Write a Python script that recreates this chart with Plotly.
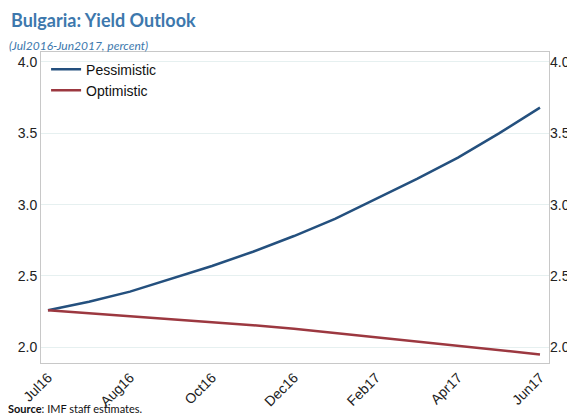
import plotly.graph_objects as go

period_index = list(range(13))
pessimistic = [2.26, 2.32, 2.39, 2.48, 2.57, 2.67, 2.78, 2.90, 3.04, 3.18, 3.33, 3.50, 3.68]
optimistic = [2.26, 2.24, 2.22, 2.20, 2.18, 2.155, 2.13, 2.10, 2.07, 2.04, 2.01, 1.98, 1.95]
tick_positions = [0, 2, 4, 6, 8, 10, 12]
tick_labels = ["Jul16", "Aug16", "Oct16", "Dec16", "Feb17", "Apr17", "Jun17"]
y_ticks = [2.0, 2.5, 3.0, 3.5, 4.0]
y_tick_text = ["2.0", "2.5", "3.0", "3.5", "4.0"]

fig = go.Figure()
fig.add_trace(go.Scatter(x=period_index, y=pessimistic, mode="lines", name="Pessimistic",
                         line=dict(color="#24507E", width=2.5)))
fig.add_trace(go.Scatter(x=period_index, y=optimistic, mode="lines", name="Optimistic",
                         line=dict(color="#9C3840", width=2.5)))
fig.add_trace(go.Scatter(x=period_index, y=pessimistic, mode="lines", yaxis="y2",
                         showlegend=False, hoverinfo="skip",
                         line=dict(color="rgba(0,0,0,0)", width=0)))

yr = [1.89, 4.07]
# page body has an 8px default margin, so the figure is sized/offset to compensate
fig.update_layout(
    width=567, height=411,
    margin=dict(l=33, r=26, t=44, b=56, autoexpand=False),
    paper_bgcolor="white", plot_bgcolor="white",
    font=dict(family="Arial, Liberation Sans, sans-serif", size=13, color="#222"),
    xaxis=dict(range=[-0.17, 12.22], tickvals=tick_positions, ticktext=tick_labels,
               tickangle=-45, showgrid=False, zeroline=False, ticks="", automargin=False,
               showline=True, linecolor="#C8C8C8", linewidth=1, mirror=True,
               tickfont=dict(size=14, color="#222")),
    yaxis=dict(range=yr, tickvals=y_ticks, ticktext=y_tick_text, showgrid=True,
               gridcolor="#E6F0F0", zeroline=False, ticks="", automargin=False,
               showline=True, linecolor="#C8C8C8", linewidth=1, mirror=True,
               tickfont=dict(size=14, color="#222")),
    yaxis2=dict(range=yr, tickvals=y_ticks, ticktext=y_tick_text, overlaying="y",
                side="right", showgrid=False, zeroline=False, ticks="", automargin=False,
                tickfont=dict(size=14, color="#222")),
    legend=dict(x=0.01, y=0.995, xanchor="left", yanchor="top",
                bgcolor="rgba(0,0,0,0)", font=dict(size=14, color="#111"),
                tracegroupgap=2),
    showlegend=True,
)

fig.add_annotation(text="<b>Bulgaria: Yield Outlook</b>", xref="paper", yref="paper",
                   x=-0.063, y=1.0, yshift=45, xanchor="left", yanchor="top",
                   showarrow=False, font=dict(family="Lato, Open Sans, sans-serif", size=18, color="#3D78AD"))
fig.add_annotation(text="<i>(Jul2016-Jun2017, percent)</i>", xref="paper", yref="paper",
                   x=-0.066, y=1.0, yshift=16, xanchor="left", yanchor="top",
                   showarrow=False, font=dict(family="Lato, Open Sans, sans-serif", size=12, color="#3D78AD"))
fig.add_annotation(text="<b>Source</b>: IMF staff estimates.", xref="paper", yref="paper",
                   x=-0.068, y=0, yshift=-37, xanchor="left", yanchor="top",
                   showarrow=False, font=dict(family="Lato, Open Sans, sans-serif", size=11, color="#111"))

fig.write_html("out.html")
